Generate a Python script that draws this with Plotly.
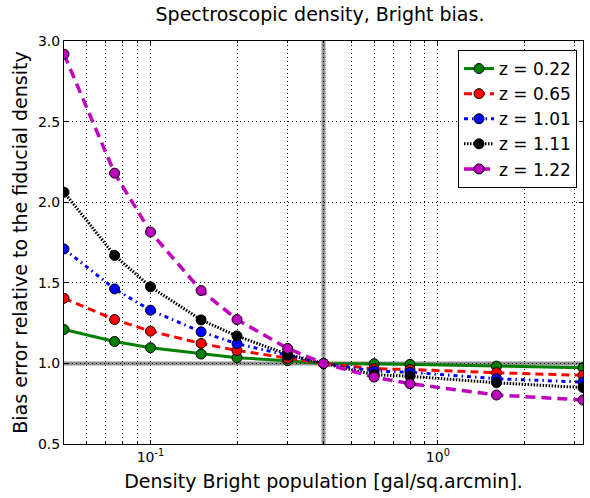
import plotly.graph_objects as go

density = [0.05, 0.075, 0.1, 0.15, 0.2, 0.3, 0.4, 0.6, 0.8, 1.6, 3.2]
fiducial_density = 0.4
fiducial_ratio = 1.0

z_labels = ["z = 0.22", "z = 0.65", "z = 1.01", "z = 1.11", "z = 1.22"]
bias_z022 = [1.21, 1.136, 1.097, 1.058, 1.035, 1.017, 1.0, 0.998, 0.994, 0.983, 0.973]
bias_z065 = [1.404, 1.272, 1.20, 1.124, 1.08, 1.031, 1.0, 0.967, 0.962, 0.942, 0.926]
bias_z101 = [1.71, 1.462, 1.33, 1.196, 1.122, 1.05, 1.0, 0.953, 0.945, 0.905, 0.884]
bias_z111 = [2.062, 1.67, 1.475, 1.27, 1.17, 1.056, 1.0, 0.93, 0.92, 0.88, 0.85]
bias_z122 = [2.918, 2.18, 1.815, 1.452, 1.272, 1.093, 1.0, 0.915, 0.874, 0.804, 0.773]

x_major = [0.1, 1.0]
x_major_labels = ["10<sup>-1</sup>", "10<sup>0</sup>"]
x_minor = [0.06, 0.07, 0.08, 0.09, 0.2, 0.3, 0.4, 0.5, 0.6, 0.7, 0.8, 0.9, 2.0, 3.0]
y_ticks = [0.5, 1.0, 1.5, 2.0, 2.5, 3.0]

series = [bias_z022, bias_z065, bias_z101, bias_z111, bias_z122]
colors = ["#008000", "#ff0000", "#0000ff", "#000000", "#bf00bf"]
dashes = ["solid", "8px,5px", "4px,4px,1.5px,4px", "1.5px,1.5px", "10px,6px"]
widths = [3, 3, 3, 3, 3.5]

fig = go.Figure()
for lab, ys, c, d, w in zip(z_labels, series, colors, dashes, widths):
    fig.add_trace(go.Scatter(
        x=density, y=ys, name=lab, mode="lines+markers",
        line=dict(color=c, width=w, dash=d),
        marker=dict(symbol="circle", size=10, color=c, line=dict(color="black", width=1)),
        cliponaxis=True,
    ))

fig.add_vline(x=fiducial_density, line=dict(color="rgba(100,100,100,0.7)", width=4), layer="below")
fig.add_hline(y=fiducial_ratio, line=dict(color="rgba(100,100,100,0.7)", width=4), layer="below")

font = "DejaVu Sans"
grid = dict(showgrid=True, gridcolor="black", griddash="1px,3px", gridwidth=1)
fig.update_layout(
    width=590, height=498,
    margin=dict(l=64, r=7, t=41, b=54, autoexpand=False),
    paper_bgcolor="white", plot_bgcolor="white",
    font=dict(family=font, size=14, color="black"),
    title=dict(text="Spectroscopic density, Bright bias.", x=320 / 590, xanchor="center",
               y=1 - 14 / 498, yanchor="middle", yref="container",
               font=dict(family=font, size=19)),
    showlegend=True,
    legend=dict(x=(577 - 64) / 519, y=(444 - 50) / 403, xanchor="right", yanchor="top",
                bordercolor="black", borderwidth=1, bgcolor="white",
                font=dict(family=font, size=17), tracegroupgap=0,
                itemwidth=30),
)
fig.update_xaxes(
    type="log", range=[-1.30103, 0.50515], automargin=False,
    tickmode="array", tickvals=x_major, ticktext=x_major_labels,
    **grid,
    minor=dict(tickmode="array", tickvals=x_minor, ticks="inside", ticklen=2,
               tickcolor="black", **grid),
    ticks="inside", ticklen=4, tickcolor="black",
    showline=True, linecolor="black", linewidth=1, mirror="ticks",
    zeroline=False,
    tickfont=dict(family=font, size=14),
    title=dict(text="Density Bright population [gal/sq.arcmin].", standoff=10,
               font=dict(family=font, size=19)),
)
fig.update_yaxes(
    range=[0.5, 3.0], tickmode="array", tickvals=y_ticks, automargin=False,
    ticktext=[f"{v:.1f}" for v in y_ticks],
    **grid,
    ticks="inside", ticklen=4, tickcolor="black",
    showline=True, linecolor="black", linewidth=1, mirror="ticks",
    zeroline=False,
    tickfont=dict(family=font, size=14),
    title=dict(text="Bias error relative to the fiducial density", standoff=5,
               font=dict(family=font, size=19)),
)

fig.write_html("out.html", config={"displayModeBar": False})
with open("out.html", "r", encoding="utf-8") as f:
    html = f.read()
html = html.replace("<head>", "<head><style>html,body{margin:0;padding:0;overflow:hidden;}</style>", 1)
with open("out.html", "w", encoding="utf-8") as f:
    f.write(html)
